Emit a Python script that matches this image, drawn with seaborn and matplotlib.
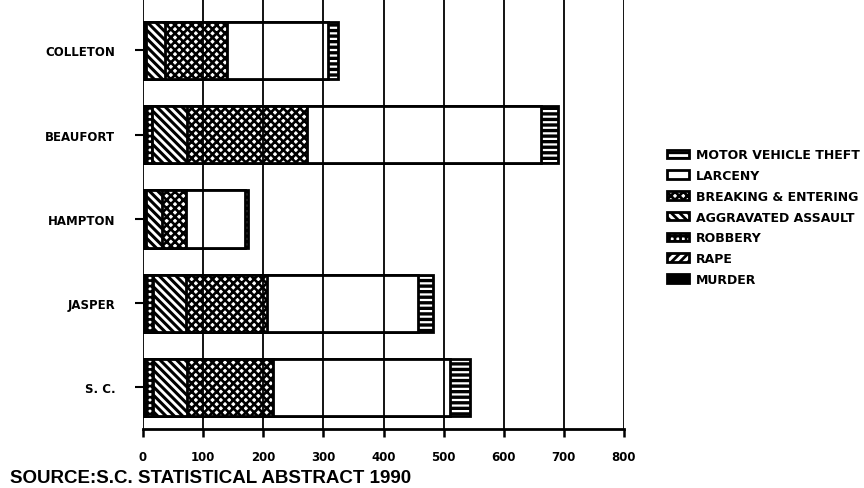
import matplotlib
matplotlib.use("Agg")
import matplotlib.pyplot as plt
import seaborn as sns
import pandas as pd
from matplotlib.patches import Patch

# Index crimes per county, stacked left to right in this order
counties = ["COLLETON", "BEAUFORT", "HAMPTON", "JASPER", "S. C."]
murder = [1, 1, 1, 1.5, 1]
rape = [2, 4, 2, 3, 4]
robbery = [2, 10, 2, 12, 11]
aggravated_assault = [31, 58, 27, 55, 57]
breaking_entering = [104, 200, 40, 135, 143]
larceny = [167, 389, 98, 251, 295]
motor_vehicle_theft = [17, 28, 5, 25, 33]

crime_names = ["MURDER", "RAPE", "ROBBERY", "AGGRAVATED ASSAULT",
               "BREAKING & ENTERING", "LARCENY", "MOTOR VEHICLE THEFT"]
crime_values = [murder, rape, robbery, aggravated_assault,
                breaking_entering, larceny, motor_vehicle_theft]
x_ticks = [0, 100, 200, 300, 400, 500, 600, 700, 800]
source_note = "SOURCE:S.C. STATISTICAL ABSTRACT 1990"

# fill, hatch pattern, hatch line width for each crime type
styles = {
    "MURDER": ("black", "", 1.0),
    "RAPE": ("white", "////", 2.0),
    "ROBBERY": ("white", "+++", 2.0),
    "AGGRAVATED ASSAULT": ("white", "\\\\\\\\", 2.2),
    "BREAKING & ENTERING": ("white", "xxxx", 1.9),
    "LARCENY": ("white", "", 1.0),
    "MOTOR VEHICLE THEFT": ("white", "---", 2.4),
}

sns.set_theme(style="white")
plt.rcParams["font.family"] = ["DejaVu Sans"]
plt.rcParams["font.weight"] = "bold"
for key in ["text.color", "axes.labelcolor", "xtick.color", "ytick.color"]:
    plt.rcParams[key] = "black"

df = pd.DataFrame({"county": counties})
running = [0.0] * len(counties)
for name, vals in zip(crime_names, crime_values):
    running = [r + v for r, v in zip(running, vals)]
    df[name] = running

fig = plt.figure(figsize=(8.64, 4.89), dpi=100)
ax = fig.add_axes([143 / 864, 1 - 430 / 489, 481 / 864, 430 / 489])


def style_patches(patches, fill, hatch, hlw):
    for p in patches:
        p.set_facecolor(fill)
        p.set_edgecolor("black")
        p.set_linewidth(2.0)
        p.set_hatch(hatch if hatch else None)
        if hasattr(p, "set_hatch_linewidth"):
            p.set_hatch_linewidth(hlw)


# Draw cumulative totals from the longest down so each shorter layer sits on top
for name in reversed(crime_names):
    fill, hatch, hlw = styles[name]
    plt.rcParams["hatch.linewidth"] = hlw
    before = len(ax.patches)
    sns.barplot(data=df, x=name, y="county", order=counties, orient="h",
                color="white", saturation=1, width=0.68, ax=ax)
    style_patches(ax.patches[before:], fill, hatch, hlw)

ax.set_xlim(0, 800)
ax.set_ylim(4.493, -0.611)
ax.set_xticks(x_ticks)
ax.set_xticklabels([str(t) for t in x_ticks], fontsize=8.5, fontweight="bold")
ax.set_yticks(range(len(counties)))
ax.set_yticklabels(counties, fontsize=8.5, fontweight="bold")
ax.set_xlabel("")
ax.set_ylabel("")

ax.grid(axis="x", color="black", linewidth=1.3)
ax.grid(axis="y", visible=False)
ax.set_axisbelow(False)

for side in ["top", "right", "left"]:
    ax.spines[side].set_visible(False)
ax.spines["bottom"].set_color("black")
ax.spines["bottom"].set_linewidth(2.0)
ax.tick_params(axis="x", direction="out", length=6, width=1.8, color="black",
               pad=9, bottom=True)
ax.tick_params(axis="y", direction="out", length=6, width=1.5, color="black",
               pad=14, left=True)

handles = []
for name in reversed(crime_names):
    fill, hatch, hlw = styles[name]
    plt.rcParams["hatch.linewidth"] = hlw
    h = Patch(facecolor=fill, edgecolor="black", linewidth=2.0,
              hatch=hatch if hatch else None, label=name)
    handles.append(h)
plt.rcParams["hatch.linewidth"] = 2.0

fig.legend(handles=handles, loc="center left",
           bbox_to_anchor=(667 / 864, 1 - 218 / 489), frameon=False,
           prop={"size": 9, "weight": "bold"}, handlelength=1.75,
           handleheight=0.65, handletextpad=0.55, labelspacing=0.62,
           borderpad=0, borderaxespad=0)

fig.text(10 / 864, 1 - 479 / 489, source_note, fontsize=13.5,
         fontweight="bold", family="Liberation Sans", ha="left", va="center")

fig.savefig("out.png", dpi=100)
